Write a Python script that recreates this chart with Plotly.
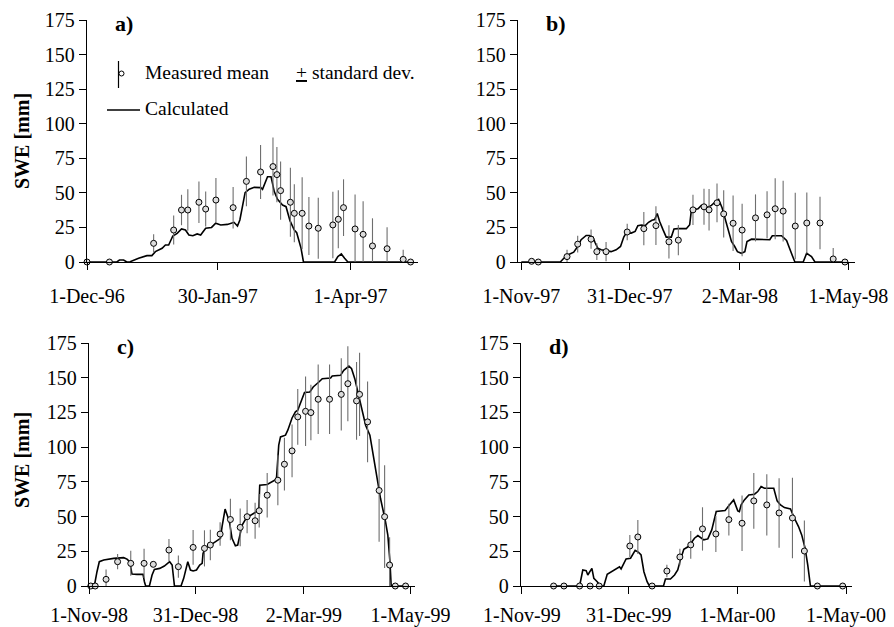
import pandas as pd
import plotly.graph_objects as go

W, H = 894, 627

# ---------------- DATA (days since panel start date, SWE in mm) ----------------
a_start = "1996-12-01"
a_meas_day = [0, 10.3, 30.6, 39.8, 43.4, 46.3, 51.4, 54.5, 59.2, 67.1, 73.2, 79.7, 85.4, 87.2, 88.9,
              93.4, 95.2, 98.8, 101.9, 106.2, 112.9, 115.4, 117.8, 123.1, 126.8, 131.1, 137.8, 145.2, 148.6]
a_meas_val = [0, 0, 13.5, 23.1, 37.6, 37.6, 43.2, 38.3, 44.8, 39.3, 58.3, 65.1, 69.0, 63.2, 51.6,
              43.2, 35.2, 35.2, 26.0, 24.4, 26.8, 30.9, 39.3, 23.9, 20.0, 11.6, 9.6, 1.9, 0]
a_meas_sd = [0, 0, 6.5, 10.5, 11, 15, 15, 12.7, 16, 15, 18, 19.5, 21, 20, 21,
             25, 21, 26, 21, 22, 24, 21, 20.5, 25, 24, 20, 15.5, 7, 0]
a_calc_day = [0, 13.7, 14.9, 16.8, 18.3, 19.8, 23.7, 27.5, 29.8, 31.4, 34.5, 36, 37.5, 39.4, 41.4, 43.4,
              45.2, 46.8, 48.6, 50.6, 52.2, 54.5, 57.2, 59.1, 61.4, 64.5, 67.5, 69.1, 70.2, 72.6, 74.5,
              76.8, 79.8, 80.6, 82.9, 84.5, 86, 87.5, 89.8, 91.4, 93.2, 95.2, 96.3, 98.3, 99.4, 113.7,
              115.2, 116.8, 118.3, 119.8, 148.3]
a_calc_val = [0, 0, 1.4, 1.4, 0, 0.2, 2.7, 4.6, 4.6, 7.5, 9.9, 12.3, 12.3, 18.8, 20.7, 23.9,
              23.1, 19.5, 19.0, 20.3, 19.5, 24.4, 25.0, 28.0, 26.8, 27.2, 28.7, 26.0, 30.4, 50.1, 52.6,
              54.0, 53.8, 52.6, 61.7, 61.7, 50.9, 45.3, 41.2, 40.0, 29.9, 23.1, 21.2, 9.9, 0, 0,
              3.9, 5.8, 2.7, 0, 0]

b_start = "1997-11-01"
b_meas_day = [5.7, 9.4, 25.3, 31.2, 38.6, 41.8, 46.9, 58.6, 67.8, 74.5, 81.7, 86.9, 95.0, 101.1, 103.9,
              108.3, 112.0, 117.2, 122.2, 129.6, 136.0, 140.5, 144.9, 151.6, 158.0, 165.3, 172.6, 179.1]
b_meas_val = [0.5, 0, 3.9, 12.9, 16.5, 7.5, 7.5, 21.7, 24.1, 26.3, 14.6, 15.8, 37.7, 39.9, 37.7,
              42.8, 34.8, 28.0, 23.1, 31.9, 34.1, 38.5, 36.8, 26.0, 28.2, 28.2, 2.2, 0]
b_meas_sd = [0, 0, 5, 6, 7, 6, 7, 6, 12, 14, 12, 11, 11, 13, 15,
             14, 17, 20, 19, 17, 17, 22, 22, 24, 22, 19, 8, 0]
b_calc_day = [0, 21.6, 23.5, 25.7, 29, 31.2, 33.1, 35.9, 37.7, 39.6, 40.8, 42.3, 44.2, 47, 49.7, 52.5,
              54.9, 56.7, 58, 60.8, 63, 64.5, 66.4, 68.6, 70.4, 72.3, 73.8, 75.2, 76.5, 78.4, 80.2, 83,
              84.5, 86.7, 91.3, 93.2, 94.1, 97.8, 99.6, 102.4, 105.2, 107.9, 109.2, 111.1, 112.6, 114.4,
              116.3, 118.1, 119.6, 121.8, 123.7, 124.9, 127.4, 137.5, 138.9, 144, 146.8, 149.5, 151.4,
              156, 157.9, 160.6, 162.5, 180]
b_calc_val = [0, 0, 2.7, 5.1, 7.1, 11.2, 16.1, 19.2, 19.2, 18.0, 14.1, 10.0, 8.8, 8.3, 7.5, 8.8,
              11.2, 18.0, 20.9, 20.9, 22.1, 26.3, 26.8, 26.3, 28.7, 30.2, 30.7, 35.0, 29.5, 23.4, 18.0, 18.0,
              23.9, 24.1, 24.1, 27.0, 37.5, 38.5, 40.9, 39.2, 40.9, 44.1, 45.3, 39.2, 31.9, 22.1,
              14.8, 11.2, 7.5, 6.3, 7.5, 14.8, 16.5, 16.1, 19.0, 19.0, 15.6, 6.3, 0,
              0, 6.3, 3.9, 0, 0]

c_start = "1998-11-01"
c_meas_day = [1, 3.5, 9.6, 16.1, 23.5, 31.0, 36.2, 45.0, 50.3, 58.6, 65.0, 68.3, 73.8, 79.6, 85.1, 89.0,
              93.5, 95.8, 100.3, 106.3, 110.0, 114.3, 117.5, 121.9, 124.9, 129.0, 135.4, 142.0, 145.7,
              150.6, 152.3, 156.8, 163.3, 166.4, 169.2, 172.4, 178.2]
c_meas_val = [0, 0, 4.8, 17.5, 16.3, 16.3, 15.6, 25.9, 13.9, 27.8, 27.1, 29.5, 37.4, 47.9, 42.2, 49.9,
              47.0, 54.2, 65.4, 76.2, 87.7, 97.3, 121.8, 125.8, 124.9, 134.5, 134.5, 138.0, 145.7,
              133.3, 138.0, 118.2, 68.8, 49.9, 15.1, 0, 0]
c_meas_sd = [0, 0, 7, 5.5, 9, 10.5, 2, 8, 8, 12.5, 13, 11, 8.5, 15, 13.6, 12,
             13, 12, 16, 18, 19, 19, 20, 25, 20, 25, 25, 26, 27,
             28, 30, 29, 37, 37, 20, 0, 0]
c_calc_day = [0, 3, 4.5, 5.8, 8.3, 13.9, 19.5, 21.4, 22.9, 24.2, 27, 30.4, 31.2, 31.9, 34, 35.5, 36.8,
              39.8, 42.4, 45.4, 46.8, 48.1, 51.8, 53.3, 55.6, 57.1, 58.6, 60.5, 62.3, 63.7, 64.2, 66.5,
              69.8, 72.1, 74, 74.9, 76.6, 78.1, 79.2, 80.5, 82.4, 83.7, 84.9, 86.2, 88.6, 91.8, 94.3,
              95.6, 96.1, 100.3, 103.1, 105.5, 106.8, 107.8, 110.6, 111.9, 114.3, 116.2, 117.5, 119,
              121.3, 124.3, 126.2, 129.4, 131.3, 136, 136.9, 141.6, 143.4, 146.3, 147.8, 149.6, 151.9,
              153.8, 155.7, 158.1, 160, 161.8, 164.1, 166.9, 168.2, 169.4, 170.1, 179]
c_calc_val = [0, 0, 10.3, 17.5, 18.7, 19.9, 20.4, 19.4, 17.5, 8.6, 8.4, 8.4, 3.1, 0, 0, 7.9, 12.0,
              12.7, 14.4, 17.5, 15.1, 0, 0, 5.5, 17.5, 11.5, 10.8, 11.5, 15.1, 16.3, 23.5, 28.3,
              30.7, 32.4, 34.3, 42.7, 55.4, 49.9, 45.1, 34.3, 29.0, 29.5, 36.7, 43.9, 49.1, 51.8, 53.5,
              55.9, 72.6, 73.1, 75.0, 76.9, 101.4, 107.4, 108.6, 112.2, 121.0, 125.4, 126.6, 131.4,
              139.3, 139.7, 143.3, 146.9, 149.3, 149.8, 151.2, 151.7, 155.3, 158.4, 156.5, 149.3, 136.1,
              124.2, 115.8, 108.6, 94.2, 79.8, 63.0, 46.3, 36.7, 17.5, 0, 0]

d_start = "1999-11-01"
d_meas_day = [17.8, 23.6, 32.4, 38.3, 43.4, 60.6, 65.1, 73.1, 81.4, 88.7, 94.8, 101.4, 108.9, 116.2,
              123.6, 130.2, 137.5, 144.4, 151.9, 158.6, 165.9, 180.1]
d_meas_val = [0, 0, 0, 0, 0, 28.8, 35.3, 0, 10.8, 20.9, 29.6, 41.1, 37.5, 47.8,
              45.2, 61.3, 58.4, 52.6, 49.0, 25.2, 0, 0]
d_meas_sd = [0, 0, 0, 0, 0, 8, 12.3, 0, 4.5, 6, 10, 15.6, 13, 11.5,
             20, 20, 22, 25, 29, 22, 0, 0]
d_calc_day = [17, 32.4, 34.2, 36.1, 37, 39.3, 40.4, 42.3, 44.1, 46, 47.9, 51.1, 52.9, 54.8, 55.7, 58.5,
              61, 62.3, 63.6, 65.5, 66.9, 68.5, 70.3, 71.6, 79.5, 80.6, 83.4, 85.7, 87.5, 89, 90.9,
              93.5, 95, 96.9, 98.8, 100.6, 102.1, 104.4, 106.6, 109.1, 114.1, 116.5, 118.9, 121.2,
              122.1, 123.1, 124.9, 127.4, 130.6, 132.4, 134.3, 136.2, 139.9, 141.4, 143.3, 145.2,
              147.4, 150.8, 153, 155.3, 157.1, 159, 160.5, 162, 180]
d_calc_val = [0, 0, 11.5, 11.1, 7.9, 12.7, 5.5, 3.1, 0, 0, 8.4, 10.8, 12.7, 13.9, 12.3, 19.5,
              20.0, 22.8, 25.7, 24.3, 22.4, 10.3, 3.1, 0, 0, 5.0, 5.0, 7.9, 11.5, 18.8, 26.4,
              28.4, 30.8, 34.4, 36.3, 34.4, 33.2, 33.9, 40.4, 53.6, 54.3, 58.4, 62.0, 54.1,
              53.6, 58.4, 62.0, 65.6, 66.1, 68.0, 71.6, 70.4, 70.4, 70.4, 61.3, 58.4,
              56.5, 55.5, 48.8, 42.8, 36.8, 27.2, 15.1, 0, 0]

panel_labels = ["a)", "b)", "c)", "d)"]
x_ranges = [("1996-12-01", "1997-05-02"), ("1997-10-30 04:00", "1998-05-04 16:00"),
            ("1998-11-01", "1999-05-03 12:00"), ("1999-10-31 12:00", "2000-05-04 08:00")]
tick_dates = [["1996-12-01", "1997-01-30", "1997-04-01"],
              ["1997-11-01", "1997-12-31", "1998-03-02", "1998-05-01"],
              ["1998-11-01", "1998-12-31", "1999-03-02", "1999-05-01"],
              ["1999-11-01", "1999-12-31", "2000-03-01", "2000-05-01"]]
tick_text = [["1-Dec-96", "30-Jan-97", "1-Apr-97"],
             ["1-Nov-97", "31-Dec-97", "2-Mar-98", "1-May-98"],
             ["1-Nov-98", "31-Dec-98", "2-Mar-99", "1-May-99"],
             ["1-Nov-99", "31-Dec-99", "1-Mar-00", "1-May-00"]]
y_ticks = [0, 25, 50, 75, 100, 125, 150, 175]
y_title = "SWE [mm]"
legend_meas = "Measured mean"
legend_sd = "<u>+</u> standard dev."
legend_calc = "Calculated"

# ---------------- FIGURE ----------------
FONT = "Liberation Serif"

def to_dates(start, days):
    return pd.Timestamp(start) + pd.to_timedelta(pd.Series(days, dtype=float), unit="D")

panels = [
    (a_start, a_meas_day, a_meas_val, a_meas_sd, a_calc_day, a_calc_val),
    (b_start, b_meas_day, b_meas_val, b_meas_sd, b_calc_day, b_calc_val),
    (c_start, c_meas_day, c_meas_val, c_meas_sd, c_calc_day, c_calc_val),
    (d_start, d_meas_day, d_meas_val, d_meas_sd, d_calc_day, d_calc_val),
]

# pixel boxes (left, right, top(y=175), bottom(y=0)) and tick-label standoff per panel
boxes = [(87, 418, 20, 262), (518, 855, 20, 262), (89, 415, 343, 586), (521, 852, 343, 586)]
standoffs = [9, 9, 4, 4]

def px(x):
    return x / W

def py(y):
    return 1 - y / H

fig = go.Figure()
layout = dict(
    template="none",
    width=W, height=H, margin=dict(l=0, r=0, t=0, b=0, autoexpand=False),
    paper_bgcolor="white", plot_bgcolor="white", showlegend=False,
    font=dict(family=FONT, size=20, color="black"),
)

annotations = []
shapes = []
for i, (start, md, mv, ms, cd, cv) in enumerate(panels):
    n = "" if i == 0 else str(i + 1)
    xa, ya = "x" + n, "y" + n
    fig.add_trace(go.Scatter(
        x=to_dates(start, cd), y=cv, mode="lines", xaxis=xa, yaxis=ya,
        line=dict(color="black", width=1.6), cliponaxis=False))
    fig.add_trace(go.Scatter(
        x=to_dates(start, md), y=mv, mode="markers", xaxis=xa, yaxis=ya,
        marker=dict(symbol="circle", size=6, color="#dcdcdc", line=dict(color="black", width=1)),
        error_y=dict(type="data", array=ms, visible=True, color="#6e6e6e", thickness=1.1, width=0),
        cliponaxis=False))
    l, r, t, b = boxes[i]
    layout["xaxis" + n] = dict(
        domain=[px(l), px(r)], anchor=ya, type="date", range=list(x_ranges[i]), automargin=False,
        tickmode="array", tickvals=tick_dates[i], ticktext=tick_text[i],
        showline=True, linecolor="black", linewidth=1.3, ticks="outside", ticklen=7,
        tickwidth=1.3, tickcolor="black", showgrid=False, zeroline=False,
        ticklabelstandoff=standoffs[i], tickfont=dict(family=FONT, size=20, color="black"))
    layout["yaxis" + n] = dict(
        domain=[py(b), py(t)], anchor=xa, range=[0, 175], tickmode="array", tickvals=y_ticks,
        automargin=False,
        showline=True, linecolor="black", linewidth=1.3, ticks="outside", ticklen=7,
        tickwidth=1.3, tickcolor="black", showgrid=False, zeroline=False,
        tickfont=dict(family=FONT, size=20, color="black"))
    # panel label
    annotations.append(dict(
        text="<b>%s</b>" % panel_labels[i], xref="paper", yref="paper",
        x=px(l + 26), y=py(t + 3), xanchor="left", yanchor="middle", showarrow=False,
        font=dict(family=FONT, size=22, color="black")))

# y titles (left column)
for yc in (141, 460):
    annotations.append(dict(
        text="<b>%s</b>" % y_title, xref="paper", yref="paper", x=px(22), y=py(yc),
        xanchor="center", yanchor="middle", textangle=-90, showarrow=False,
        font=dict(family=FONT, size=20, color="black")))

# legend (panel a)
annotations += [
    dict(text=legend_meas, xref="paper", yref="paper", x=px(143), y=py(73), xanchor="left",
         yanchor="middle", showarrow=False, font=dict(family=FONT, size=19.5, color="black")),
    dict(text=legend_sd, xref="paper", yref="paper", x=px(294), y=py(73), xanchor="left",
         yanchor="middle", showarrow=False, font=dict(family=FONT, size=19.5, color="black")),
    dict(text=legend_calc, xref="paper", yref="paper", x=px(143), y=py(108), xanchor="left",
         yanchor="middle", showarrow=False, font=dict(family=FONT, size=19.5, color="black")),
]
shapes += [
    dict(type="line", xref="paper", yref="paper", x0=px(118.5), x1=px(118.5), y0=py(61), y1=py(88),
         line=dict(color="black", width=1.2)),
    dict(type="circle", xref="paper", yref="paper", x0=px(119), x1=px(124), y0=py(71), y1=py(76),
         line=dict(color="black", width=1), fillcolor="white"),
    dict(type="line", xref="paper", yref="paper", x0=px(107), x1=px(140), y0=py(110), y1=py(110),
         line=dict(color="black", width=1.6)),
]
layout["annotations"] = annotations
layout["shapes"] = shapes
fig.update_layout(**layout)
fig.write_html("out.html")
